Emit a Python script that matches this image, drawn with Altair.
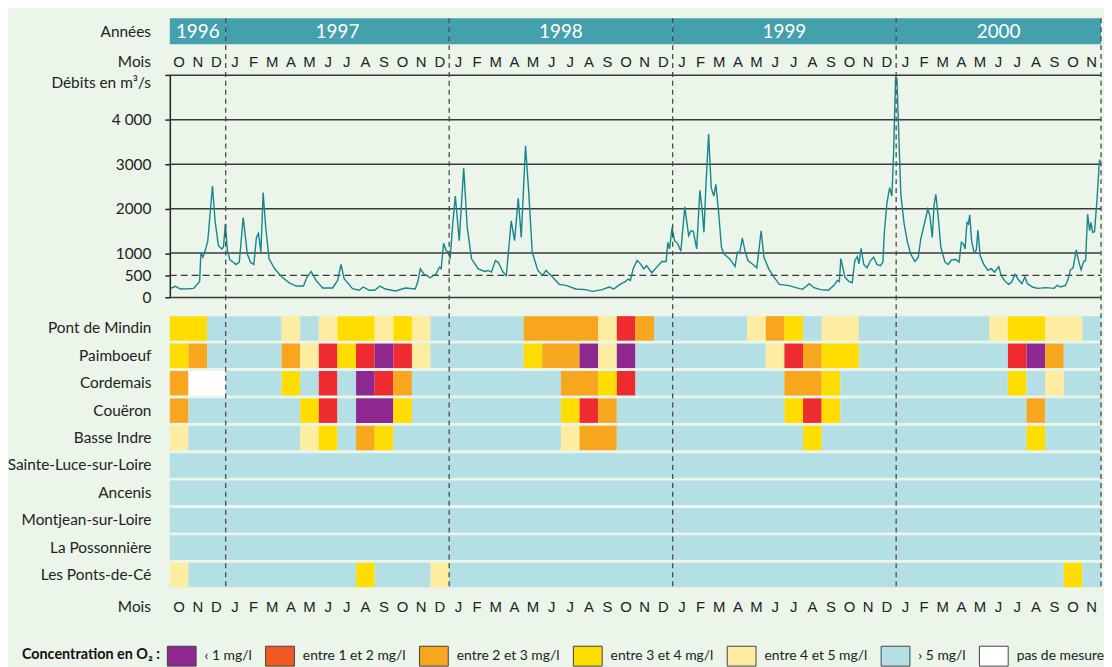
import altair as alt
import pandas as pd

NARROW = "Lato, sans-serif"
ARIAL = "Liberation Sans, Arial, sans-serif"

# ---------------- data ----------------
years = ["1996", "1997", "1998", "1999", "2000"]
year_start = [0, 3, 15, 27, 39]      # month index (0 = Oct 1996)
year_end = [3, 15, 27, 39, 50]
year_bounds = [3, 15, 27, 39, 50]

month_letters = list("OND") + list("JFMAMJJASOND") * 3 + list("JFMAMJJASON")

stations = ["Pont de Mindin", "Paimboeuf", "Cordemais", "Couëron", "Basse Indre",
            "Sainte-Luce-sur-Loire", "Ancenis", "Montjean-sur-Loire",
            "La Possonnière", "Les Ponts-de-Cé"]

# concentration classes: 0 <1, 1 1-2, 2 2-3, 3 3-4, 4 4-5, 5 >5, 6 no measure
# runs of (class, number of months) from Oct 1996 to Nov 2000
runs_pont_de_mindin = [(3, 2), (5, 4), (4, 1), (5, 1), (4, 1), (3, 2), (4, 1), (3, 1), (4, 1),
                       (5, 5), (2, 4), (4, 1), (1, 1), (2, 1), (5, 5), (4, 1), (2, 1), (3, 1),
                       (5, 1), (4, 2), (5, 7), (4, 1), (3, 2), (4, 2), (5, 1)]
runs_paimboeuf = [(3, 1), (2, 1), (5, 4), (2, 1), (4, 1), (1, 1), (3, 1), (1, 1), (0, 1), (1, 1),
                  (4, 1), (5, 5), (3, 1), (2, 2), (0, 1), (4, 1), (0, 1), (5, 7), (4, 1), (1, 1),
                  (2, 1), (3, 2), (5, 8), (1, 1), (0, 1), (2, 1), (5, 2)]
runs_cordemais = [(2, 1), (6, 2), (5, 3), (3, 1), (5, 1), (1, 1), (5, 1), (0, 1), (1, 1), (2, 1),
                  (5, 8), (2, 2), (3, 1), (1, 1), (5, 8), (2, 2), (3, 1), (5, 9), (3, 1), (5, 1),
                  (4, 1), (5, 2)]
runs_coueron = [(2, 1), (5, 6), (3, 1), (1, 1), (5, 1), (0, 2), (3, 1), (5, 8), (3, 1), (1, 1),
                (2, 1), (5, 9), (3, 1), (1, 1), (3, 1), (5, 10), (2, 1), (5, 3)]
runs_basse_indre = [(4, 1), (5, 6), (4, 1), (3, 1), (5, 1), (2, 1), (3, 1), (5, 9), (4, 1), (2, 2),
                    (5, 10), (3, 1), (5, 11), (3, 1), (5, 3)]
runs_sainte_luce = [(5, 50)]
runs_ancenis = [(5, 50)]
runs_montjean = [(5, 50)]
runs_possonniere = [(5, 50)]
runs_ponts_de_ce = [(4, 1), (5, 9), (3, 1), (5, 3), (4, 1), (5, 33), (3, 1), (5, 1)]

station_runs = [runs_pont_de_mindin, runs_paimboeuf, runs_cordemais, runs_coueron,
                runs_basse_indre, runs_sainte_luce, runs_ancenis, runs_montjean,
                runs_possonniere, runs_ponts_de_ce]

# Loire discharge (m3/s); position in months since 1 Oct 1996
flow_month = [0.05, 0.30, 0.57, 1.00, 1.28, 1.60, 1.67, 1.78, 1.90, 2.04, 2.29, 2.43, 2.61, 2.79,
              2.88, 2.98, 3.09, 3.23, 3.41, 3.55, 3.73, 3.94, 4.16, 4.33, 4.51, 4.65, 4.76, 4.89,
              5.01, 5.15, 5.33, 5.63, 5.99, 6.43, 6.79, 7.18, 7.35, 7.59, 7.85, 8.21, 8.74, 9.01,
              9.19, 9.36, 9.81, 10.16, 10.39, 10.70, 11.00, 11.28, 11.58, 12.12,
              12.65, 13.18, 13.31, 13.45, 13.63, 13.98, 14.30, 14.48, 14.57, 14.70, 14.84, 14.96,
              15.05, 15.19, 15.33, 15.54, 15.78, 15.97, 16.20, 16.56, 16.91, 17.09, 17.27, 17.48,
              17.63, 17.89, 18.07, 18.33, 18.51, 18.71, 18.87, 19.10, 19.28, 19.46, 19.76, 20.02,
              20.20, 20.52, 20.91, 21.27, 21.80, 22.33, 22.69, 23.22, 23.58, 23.84, 24.15, 24.47,
              24.61, 24.73,
              24.88, 25.09, 25.27, 25.45, 25.60, 25.88, 26.15, 26.42, 26.65, 26.74, 26.83, 26.97,
              27.10, 27.26, 27.44, 27.65, 27.75, 27.86, 27.98, 28.11, 28.29, 28.46, 28.57, 28.68,
              28.78, 28.93, 29.07, 29.21, 29.32, 29.46, 29.62, 29.75, 30.06, 30.35, 30.47, 30.60,
              30.74, 30.88, 31.04, 31.31, 31.52, 31.75, 31.90, 32.16, 32.41, 32.73, 33.26, 33.62,
              33.98, 34.33, 34.59, 34.95, 35.36, 35.66, 35.84, 35.95, 36.03, 36.25, 36.46, 36.64,
              36.78, 36.92, 37.00, 37.12, 37.26,
              37.44, 37.62, 37.79, 37.97, 38.15, 38.29, 38.36, 38.50, 38.65, 38.77, 38.86, 38.97,
              39.04, 39.13, 39.25, 39.43, 39.61, 39.78, 40.01, 40.19, 40.32, 40.49, 40.70, 40.81,
              40.94, 41.03, 41.13, 41.26, 41.40, 41.62, 41.79, 41.97, 42.20, 42.38, 42.50, 42.62,
              42.70, 42.80, 42.88, 42.95, 43.05, 43.18, 43.30, 43.39, 43.51, 43.69, 43.92, 44.10,
              44.28, 44.51, 44.64, 44.81, 45.03, 45.20, 45.38, 45.57, 45.75, 45.91, 46.05, 46.32,
              46.59, 47.03, 47.48, 47.65, 47.83, 48.09, 48.24, 48.36, 48.50, 48.67, 48.81, 48.93,
              49.07, 49.17, 49.28, 49.39, 49.46, 49.55, 49.65, 49.78, 49.91, 49.98]
flow_value = [210, 253, 193, 200, 208, 365, 1019, 908, 1057, 1280, 2507, 1726, 1168, 1094,
              1131, 1652, 1057, 848, 796, 744, 796, 1801, 982, 796, 744, 1354, 1443, 1019,
              2359, 1577, 871, 647, 476, 327, 260, 260, 446, 588, 387, 216, 216, 387,
              744, 424, 200, 164, 238, 164, 164, 260, 193, 149,
              216, 193, 350, 647, 536, 446, 536, 685, 647, 1220, 1057, 1019,
              871, 1652, 2284, 1280, 2917, 1577, 871, 647, 588, 610, 573, 833,
              796, 573, 498, 1726, 1280, 2232, 1354, 3415, 2321, 1019, 610, 498,
              610, 476, 298, 275, 193, 179, 141, 179, 238, 193, 290, 365,
              417, 387,
              647, 833, 759, 647, 720, 558, 685, 811, 811, 1243, 1094, 1577,
              1280, 1220, 1042, 2039, 1726, 1391, 1503, 1488, 1094, 2411, 2024, 1466,
              2470, 3676, 2470, 2284, 2545, 1949, 1131, 982, 871, 699, 1019, 1019,
              1339, 1057, 833, 744, 670, 1503, 908, 647, 476, 298, 268, 223,
              186, 313, 223, 179, 164, 275, 387, 360, 878, 461, 365, 335,
              833, 923, 759, 1109, 744,
              670, 833, 908, 744, 720, 796, 1429, 2113, 2470, 2284, 3214, 4950,
              4930, 3810, 2321, 1652, 1243, 982, 811, 908, 1317, 1615, 1987, 1838,
              1354, 2061, 2321, 1801, 1131, 796, 744, 848, 856, 796, 1243, 1200,
              1094, 1689, 1650, 1860, 1280, 1019, 1060, 1518, 945, 759, 610, 650,
              573, 699, 498, 387, 298, 350, 521, 402, 313, 461, 313, 238,
              208, 223, 208, 275, 238, 275, 424, 625, 670, 1071, 796, 625,
              818, 830, 1875, 1503, 1689, 1466, 1480, 2173, 3065, 3103]

flow_ticks = [0, 500, 1000, 2000, 3000, 4000, 5000]
grid_solid = [0, 1000, 2000, 3000, 4000, 5000]
grid_dashed = [500]

class_ids = [0, 1, 2, 3, 4, 5, 6]
cell_colors = ["#8e278f", "#ee2b2e", "#f8a61e", "#ffdd00", "#feeca0", "#b4dfe4", "#ffffff"]
legend_labels = ["‹ 1 mg/l", "entre 1 et 2 mg/l", "entre 2 et 3 mg/l", "entre 3 et 4 mg/l",
                 "entre 4 et 5 mg/l", "› 5 mg/l", "pas de mesure"]
legend_colors = ["#8e278f", "#f15a24", "#f8a61e", "#ffdd00", "#feeca0", "#b4dfe4", "#ffffff"]

# ---------------- tables ----------------
df_years = pd.DataFrame({"year": years, "start": year_start, "end": year_end})
df_years["mid"] = (df_years["start"] + df_years["end"]) / 2
df_bounds = pd.DataFrame({"b": year_bounds})
df_months = pd.DataFrame({"letter": month_letters,
                          "mid": [i + 0.5 for i in range(len(month_letters))],
                          "idx": list(range(len(month_letters)))})
rows = []
for st, runs in zip(stations, station_runs):
    pos = 0
    for c, n in runs:
        rows.append({"station": st, "x0": pos, "x1": pos + n, "cls": c})
        pos += n
df_heat = pd.DataFrame(rows)
df_flow = pd.DataFrame({"m": flow_month, "q": flow_value})
df_grid = pd.DataFrame({"level": grid_solid})
df_dash = pd.DataFrame({"level": grid_dashed})
df_leg = pd.DataFrame({"label": legend_labels})
one = pd.DataFrame({"k": [0]})

W = 938
xs = alt.Scale(domain=[0, 50], nice=False, zero=False)
flow_scale = alt.Scale(domain=[0, 5000], range=[281.3, 57.3], nice=False, zero=False)
VIEW_LEFT_LABEL = -19
LBL = 15.5

year_bar = alt.Chart(df_years).mark_rect(color="#45a0ae").encode(
    x=alt.X("start:Q", scale=xs, axis=None), x2="end:Q",
    y=alt.value(0), y2=alt.value(26))
year_text = alt.Chart(df_years).mark_text(font=NARROW, fontSize=19, color="white",
                                          baseline="middle").encode(
    x=alt.X("mid:Q", scale=xs, axis=None), y=alt.value(14), text="year:N")
month_top = alt.Chart(df_months).mark_text(font=ARIAL, fontSize=15, color="#222",
                                           baseline="middle").encode(
    x=alt.X("mid:Q", scale=xs, axis=None), y=alt.value(44), text="letter:N")
month_bot = alt.Chart(df_months).mark_text(font=ARIAL, fontSize=15, color="#222",
                                           baseline="middle").encode(
    x=alt.X("mid:Q", scale=xs, axis=None), y=alt.value(593), text="letter:N")

grid = alt.Chart(df_grid).mark_rule(color="#3a3a3a", strokeWidth=1.5).encode(
    y=alt.Y("level:Q", scale=flow_scale, axis=None), x=alt.value(0), x2=alt.value(W))
dash = alt.Chart(df_dash).mark_rule(color="#3a3a3a", strokeWidth=1.4, strokeDash=[7, 4]).encode(
    y=alt.Y("level:Q", scale=flow_scale, axis=None), x=alt.value(0), x2=alt.value(W))
line = alt.Chart(df_flow).mark_line(color="#17858f", strokeWidth=1.4).encode(
    x=alt.X("m:Q", scale=xs, axis=None),
    y=alt.Y("q:Q", scale=flow_scale,
            axis=alt.Axis(orient="left", values=flow_ticks, title=None, grid=False,
                          domain=True, domainColor="#222", domainWidth=1.5,
                          ticks=True, tickSize=5, tickColor="#222", tickWidth=1.5,
                          labelPadding=14, labelFont=NARROW, labelFontSize=LBL,
                          labelColor="#222", labelBaseline="middle",
                          labelExpr="datum.value == 5000 ? '' : (datum.value == 4000 ? '4 000' : datum.value)")))

heat = alt.Chart(df_heat).mark_rect().encode(
    x=alt.X("x0:Q", scale=xs, axis=None), x2="x1:Q",
    y=alt.Y("station:N",
            scale=alt.Scale(domain=stations, range=[300, 573.1], paddingInner=0.105, paddingOuter=0),
            axis=alt.Axis(orient="left", title=None, domain=False, ticks=False, labelPadding=19,
                          labelFont=NARROW, labelFontSize=LBL, labelColor="#222", labelLimit=300)),
    color=alt.Color("cls:N", scale=alt.Scale(domain=class_ids, range=cell_colors), legend=None))

year_rules = alt.Chart(df_bounds).mark_rule(color="#4a4a4a", strokeWidth=1.3, strokeDash=[5, 4]).encode(
    x=alt.X("b:Q", scale=xs, axis=None), y=alt.value(0), y2=alt.value(575))


def side_label(txt, yv):
    return alt.Chart(one).mark_text(text=txt, font=NARROW, fontSize=LBL, color="#222",
                                    align="right", baseline="middle").encode(
        x=alt.value(VIEW_LEFT_LABEL), y=alt.value(yv))


lab_annees = side_label("Années", 14)
lab_mois_top = side_label("Mois", 44)
lab_debits = side_label("Débits en m³/s", 65)
lab_mois_bot = side_label("Mois", 593)

legend_layer = alt.Chart(df_leg).mark_square(filled=True).encode(
    x=alt.value(0), y=alt.value(0), opacity=alt.value(0),
    color=alt.Color("label:N", scale=alt.Scale(domain=legend_labels, range=legend_colors),
                    legend=alt.Legend(orient="none", legendX=-149, legendY=627,
                                      direction="horizontal", title="Concentration en O₂ :",
                                      titleOrient="left", titleFont=NARROW, titleFontSize=14.5,
                                      titleFontWeight="bold", titleColor="#111", titlePadding=6,
                                      titleBaseline="middle", titleLimit=400,
                                      labelFont=NARROW, labelFontSize=14, labelColor="#222",
                                      labelOffset=8, columnPadding=11, labelLimit=300,
                                      symbolType="M-1,-0.69L1,-0.69L1,0.69L-1,0.69Z",
                                      symbolSize=841, symbolStrokeColor="#444",
                                      symbolStrokeWidth=1, symbolOpacity=1)))

chart = alt.layer(
    year_bar, year_text, month_top, grid, dash, line, heat, year_rules, month_bot,
    lab_annees, lab_mois_top, lab_debits, lab_mois_bot, legend_layer
).resolve_scale(y="independent", color="independent").properties(
    width=W, height=651,
    padding={"left": 163, "top": 8, "right": 3, "bottom": 0},
    autosize=alt.AutoSizeParams(type="none"),
    background="#ebf5ea",
).configure_view(stroke=None)

chart.save("out.html", embed_options={"renderer": "svg", "actions": False})
